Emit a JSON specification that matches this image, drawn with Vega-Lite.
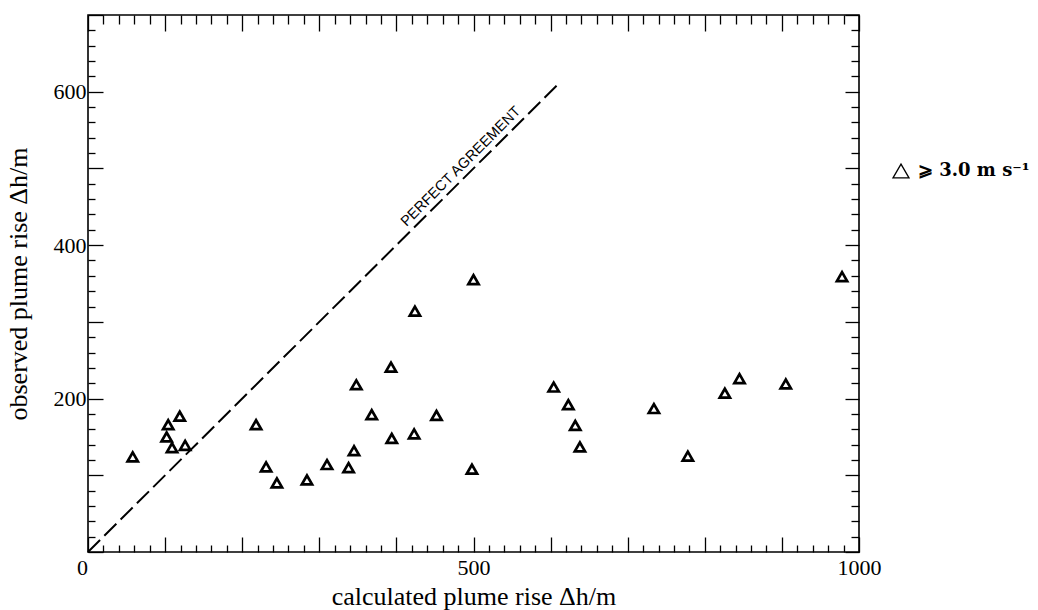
{
  "$schema": "https://vega.github.io/schema/vega-lite/v6.json",
  "width": 771,
  "height": 537,
  "autosize": {"type": "none"},
  "padding": {"left": 88, "top": 15, "right": 179, "bottom": 58},
  "background": "white",
  "config": {
    "view": {"stroke": "black", "strokeWidth": 1.6},
    "axis": {
      "grid": false,
      "domain": false,
      "tickColor": "black",
      "tickWidth": 1.3,
      "labelColor": "black",
      "titleColor": "black",
      "labelFont": "Liberation Serif",
      "titleFont": "Liberation Serif",
      "titleFontWeight": "normal"
    }
  },
  "datasets": {
    "plume": [
      {"calculated": 58, "observed": 124, "speed": "⩾ 3.0 m s⁻¹"},
      {"calculated": 104, "observed": 166, "speed": "⩾ 3.0 m s⁻¹"},
      {"calculated": 119, "observed": 177, "speed": "⩾ 3.0 m s⁻¹"},
      {"calculated": 102, "observed": 150, "speed": "⩾ 3.0 m s⁻¹"},
      {"calculated": 109, "observed": 136, "speed": "⩾ 3.0 m s⁻¹"},
      {"calculated": 126, "observed": 139, "speed": "⩾ 3.0 m s⁻¹"},
      {"calculated": 218, "observed": 166, "speed": "⩾ 3.0 m s⁻¹"},
      {"calculated": 231, "observed": 111, "speed": "⩾ 3.0 m s⁻¹"},
      {"calculated": 245, "observed": 90, "speed": "⩾ 3.0 m s⁻¹"},
      {"calculated": 284, "observed": 94, "speed": "⩾ 3.0 m s⁻¹"},
      {"calculated": 310, "observed": 114, "speed": "⩾ 3.0 m s⁻¹"},
      {"calculated": 338, "observed": 110, "speed": "⩾ 3.0 m s⁻¹"},
      {"calculated": 345, "observed": 132, "speed": "⩾ 3.0 m s⁻¹"},
      {"calculated": 348, "observed": 218, "speed": "⩾ 3.0 m s⁻¹"},
      {"calculated": 368, "observed": 179, "speed": "⩾ 3.0 m s⁻¹"},
      {"calculated": 393, "observed": 241, "speed": "⩾ 3.0 m s⁻¹"},
      {"calculated": 394, "observed": 148, "speed": "⩾ 3.0 m s⁻¹"},
      {"calculated": 424, "observed": 314, "speed": "⩾ 3.0 m s⁻¹"},
      {"calculated": 423, "observed": 154, "speed": "⩾ 3.0 m s⁻¹"},
      {"calculated": 452, "observed": 178, "speed": "⩾ 3.0 m s⁻¹"},
      {"calculated": 500, "observed": 355, "speed": "⩾ 3.0 m s⁻¹"},
      {"calculated": 498, "observed": 108, "speed": "⩾ 3.0 m s⁻¹"},
      {"calculated": 604, "observed": 215, "speed": "⩾ 3.0 m s⁻¹"},
      {"calculated": 623, "observed": 192, "speed": "⩾ 3.0 m s⁻¹"},
      {"calculated": 632, "observed": 165, "speed": "⩾ 3.0 m s⁻¹"},
      {"calculated": 638, "observed": 137, "speed": "⩾ 3.0 m s⁻¹"},
      {"calculated": 734, "observed": 187, "speed": "⩾ 3.0 m s⁻¹"},
      {"calculated": 778, "observed": 125, "speed": "⩾ 3.0 m s⁻¹"},
      {"calculated": 826, "observed": 207, "speed": "⩾ 3.0 m s⁻¹"},
      {"calculated": 845, "observed": 226, "speed": "⩾ 3.0 m s⁻¹"},
      {"calculated": 905, "observed": 219, "speed": "⩾ 3.0 m s⁻¹"},
      {"calculated": 978, "observed": 359, "speed": "⩾ 3.0 m s⁻¹"}
    ],
    "agreement": [
      {"x0": 0, "y0": 0, "x1": 613, "y1": 613}
    ],
    "annotation": [
      {"x": 493, "y": 493, "label": "PERFECT AGREEMENT"}
    ]
  },
  "layer": [
    {
      "data": {"name": "plume"},
      "mark": {"type": "point", "filled": false, "size": 105, "strokeWidth": 2.7, "color": "black", "opacity": 1},
      "encoding": {
        "x": {
          "field": "calculated",
          "type": "quantitative",
          "scale": {"domain": [0, 1000], "nice": false, "zero": false},
          "axis": {
            "orient": "bottom",
            "values": [0,20,40,60,80,100,120,140,160,180,200,220,240,260,280,300,320,340,360,380,400,420,440,460,480,500,520,540,560,580,600,620,640,660,680,700,720,740,760,780,800,820,840,860,880,900,920,940,960,980,1000],
            "tickSize": {"condition": {"test": "datum.value % 100 === 0", "value": -15}, "value": -7},
            "labelExpr": "datum.value % 500 === 0 ? '' + datum.value : ''",
            "labelOffset": {"condition": {"test": "datum.value === 0", "value": -6}, "value": 0},
            "labelFontSize": 22,
            "labelPadding": 20,
            "labelOverlap": false,
            "labelFlush": false,
            "title": "calculated plume rise Δh/m",
            "titleFontSize": 26,
            "titleY": 52,
            "titleBaseline": "alphabetic"
          }
        },
        "y": {
          "field": "observed",
          "type": "quantitative",
          "scale": {"domain": [0, 700], "nice": false, "zero": false},
          "axis": {
            "orient": "left",
            "values": [0,20,40,60,80,100,120,140,160,180,200,220,240,260,280,300,320,340,360,380,400,420,440,460,480,500,520,540,560,580,600,620,640,660,680,700],
            "tickSize": {"condition": {"test": "datum.value % 100 === 0", "value": -15}, "value": -7},
            "labelExpr": "datum.value % 200 === 0 && datum.value > 0 ? '' + datum.value : ''",
            "labelFontSize": 22,
            "labelPadding": 17,
            "labelOverlap": false,
            "labelFlush": false,
            "title": "observed plume rise Δh/m",
            "titleFontSize": 26,
            "titleX": -62,
            "titleBaseline": "alphabetic"
          }
        },
        "shape": {
          "field": "speed",
          "type": "nominal",
          "scale": {"range": ["triangle-up"]},
          "legend": {
            "title": null,
            "orient": "none",
            "legendX": 804,
            "legendY": 147,
            "padding": 0,
            "symbolSize": 256,
            "symbolStrokeWidth": 1.3,
            "symbolStrokeColor": "black",
            "symbolFillColor": "transparent",
            "labelFont": "DejaVu Serif",
            "labelFontWeight": "bold",
            "labelFontSize": 18,
            "labelColor": "black",
            "labelOffset": 8,
            "labelLimit": 300,
            "encode": {
              "symbols": {
                "update": {
                  "shape": {"value": "M0,-0.75L1,0.75L-1,0.75Z"},
                  "size": {"value": 256},
                  "strokeWidth": {"value": 1.3},
                  "stroke": {"value": "black"}
                }
              }
            }
          }
        }
      }
    },
    {
      "data": {"name": "agreement"},
      "mark": {"type": "rule", "strokeDash": [17, 6], "strokeWidth": 2, "color": "black"},
      "encoding": {
        "x": {
          "field": "x0",
          "type": "quantitative",
          "scale": {"domain": [0, 1000], "nice": false, "zero": false},
          "axis": {
            "orient": "top",
            "values": [0,20,40,60,80,100,120,140,160,180,200,220,240,260,280,300,320,340,360,380,400,420,440,460,480,500,520,540,560,580,600,620,640,660,680,700,720,740,760,780,800,820,840,860,880,900,920,940,960,980,1000],
            "tickSize": {"condition": {"test": "datum.value % 100 === 0", "value": -16}, "value": -9},
            "labels": false,
            "title": null
          }
        },
        "x2": {"field": "x1"},
        "y": {
          "field": "y0",
          "type": "quantitative",
          "scale": {"domain": [0, 700], "nice": false, "zero": false},
          "axis": {
            "orient": "right",
            "values": [0,20,40,60,80,100,120,140,160,180,200,220,240,260,280,300,320,340,360,380,400,420,440,460,480,500,520,540,560,580,600,620,640,660,680,700],
            "tickSize": {"condition": {"test": "datum.value % 100 === 0", "value": -14}, "value": -8},
            "labels": false,
            "title": null
          }
        },
        "y2": {"field": "y1"}
      }
    },
    {
      "data": {"name": "annotation"},
      "mark": {"type": "text", "angle": 315, "font": "Liberation Sans", "fontSize": 14.5, "align": "center", "baseline": "alphabetic", "dy": -6, "color": "black"},
      "encoding": {
        "x": {"field": "x", "type": "quantitative", "scale": {"domain": [0, 1000], "nice": false, "zero": false}, "axis": null},
        "y": {"field": "y", "type": "quantitative", "scale": {"domain": [0, 700], "nice": false, "zero": false}, "axis": null},
        "text": {"field": "label"}
      }
    }
  ],
  "resolve": {"axis": {"x": "independent", "y": "independent"}}
}
